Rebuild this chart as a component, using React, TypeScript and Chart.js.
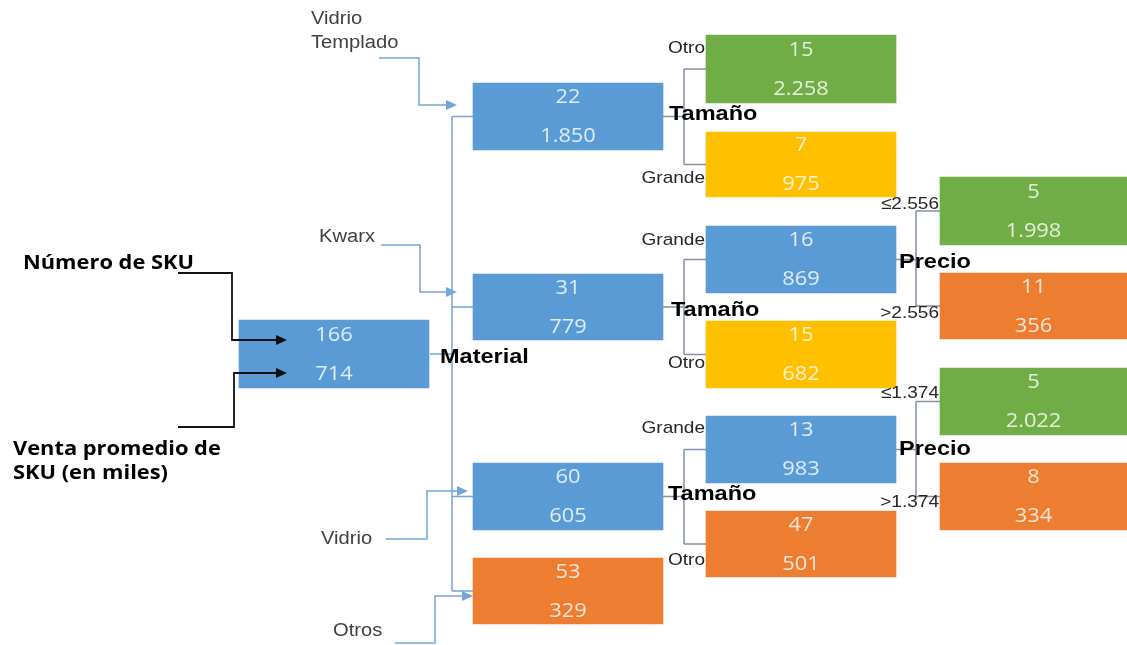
import React, { useEffect, useRef } from "react";
import { Chart, registerables } from "chart.js";

Chart.register(...registerables);

// tree nodes, in order: root, materials, sizes, prices
const skuCounts = [166, 22, 31, 60, 53, 15, 7, 16, 15, 13, 47, 5, 11, 5, 8];
const avgSales = [714, 1850, 779, 605, 329, 2258, 975, 869, 682, 983, 501, 1998, 356, 2022, 334];
const nodeParents = [-1, 0, 0, 0, 0, 1, 1, 2, 2, 3, 3, 7, 7, 9, 9];
const branchLabels = ["", "Vidrio\nTemplado", "Kwarx", "Vidrio", "Otros", "Otro", "Grande", "Grande", "Otro", "Grande", "Otro", "≤2.556", ">2.556", "≤1.374", ">1.374"];
const nodeGroups = ["split", "split", "split", "split", "low", "high", "mid", "split", "mid", "split", "low", "high", "low", "high", "low"];
const splitNodes = [0, 1, 2, 3, 7, 9];
const splitNames = ["Material", "Tamaño", "Tamaño", "Tamaño", "Precio", "Precio"];
const rootNotes = ["Número de SKU", "Venta promedio de\nSKU (en miles)"];

// ---- layout (canvas units) ----
// [left, right, top, bottom]
const nodeBox = [
  [238, 430, 320, 388],
  [473, 663, 83, 150],
  [473, 663, 274, 340],
  [473, 663, 463, 530],
  [473, 663, 558, 624],
  [706, 896, 35, 103],
  [706, 896, 132, 197],
  [706, 896, 226, 293],
  [706, 896, 321, 388],
  [706, 896, 416, 483],
  [706, 896, 511, 577],
  [940, 1130, 177, 245],
  [940, 1130, 273, 339],
  [940, 1130, 368, 435],
  [940, 1130, 463, 530],
];
// split label position [x, y] and bracket x
const splitPos = [
  [440, 357, 452],
  [669, 114, 684],
  [671, 310, 684],
  [668, 494, 684],
  [899, 262, 916],
  [899, 449, 916],
];
// material inputs: label x, label y, line start x, line y, elbow x, arrow y, tip x
const materialArrows = [
  [311, 19, 379, 58, 419, 105, 457],
  [319, 237, 381, 245, 420, 292, 457],
  [321, 539, 386, 539, 427, 491, 468],
  [333, 631, 395, 643, 435, 596, 473],
];
// branch label y for the size / price children (right aligned at box left)
const branchLabelY: Record<number, number> = { 5: 48, 6: 178, 7: 240, 8: 363, 9: 428, 10: 560, 11: 204, 12: 313, 13: 393, 14: 502 };
// root notes: text x, text y, line start x, line y, elbow x, arrow y
const noteArrows = [
  [23, 263, 178, 273, 232, 340],
  [13, 449, 178, 427, 234, 373],
];

const groupColor: Record<string, string> = { split: "#5B9BD5", high: "#70AD47", mid: "#FFC000", low: "#ED7D31" };
const groupText: Record<string, string> = { split: "#DDEBF7", high: "#E2F0D9", mid: "#FFF2CC", low: "#FBE5D6" };

const SX = 1.12;

function fmt(v: number) {
  return String(v).replace(/\B(?=(\d{3})+(?!\d))/g, ".");
}

function drawText(ctx: CanvasRenderingContext2D, s: string, x: number, y: number, font: string, color: string, align: "left" | "center" | "right") {
  ctx.save();
  ctx.font = font;
  ctx.fillStyle = color;
  ctx.textBaseline = "middle";
  ctx.textAlign = "left";
  const w = ctx.measureText(s).width * SX;
  const left = align === "center" ? x - w / 2 : align === "right" ? x - w : x;
  ctx.translate(left, y);
  ctx.scale(SX, 1);
  ctx.fillText(s, 0, 0);
  ctx.restore();
}

function arrowPath(ctx: CanvasRenderingContext2D, pts: number[][], color: string, width: number) {
  ctx.save();
  ctx.strokeStyle = color;
  ctx.fillStyle = color;
  ctx.lineWidth = width;
  ctx.beginPath();
  const n = pts.length;
  const [tx, ty] = pts[n - 1];
  pts.forEach(([x, y], i) => {
    const px = i === n - 1 ? x - 8 : x;
    if (i === 0) ctx.moveTo(x, y);
    else ctx.lineTo(px, y);
  });
  ctx.stroke();
  ctx.beginPath();
  ctx.moveTo(tx, ty);
  ctx.lineTo(tx - 11, ty - 5);
  ctx.lineTo(tx - 11, ty + 5);
  ctx.closePath();
  ctx.fill();
  ctx.restore();
}

const treePlugin = {
  id: "tree",
  beforeDatasetsDraw(chart: any) {
    const { ctx } = chart;
    const X = (v: number) => chart.scales.x.getPixelForValue(v);
    const Y = (v: number) => chart.scales.y.getPixelForValue(v);
    const cy = (i: number) => Y((nodeBox[i][2] + nodeBox[i][3]) / 2);
    ctx.save();
    ctx.lineWidth = 1.5;
    splitNodes.forEach((p, k) => {
      const kids = nodeParents.map((q, i) => (q === p ? i : -1)).filter((i) => i >= 0);
      const bx = X(splitPos[k][2]);
      ctx.strokeStyle = p === 0 ? "#74A5D8" : "#8391A4";
      ctx.beginPath();
      ctx.moveTo(X(nodeBox[p][1]), cy(p));
      ctx.lineTo(bx, cy(p));
      ctx.moveTo(bx, cy(kids[0]));
      ctx.lineTo(bx, cy(kids[kids.length - 1]));
      kids.forEach((c) => {
        ctx.moveTo(bx, cy(c));
        ctx.lineTo(X(nodeBox[c][0]), cy(c));
      });
      ctx.stroke();
    });
    ctx.restore();
    // material input arrows
    materialArrows.forEach((a) => {
      arrowPath(ctx, [[X(a[2]), Y(a[3])], [X(a[4]), Y(a[3])], [X(a[4]), Y(a[5])], [X(a[6]), Y(a[5])]], "#74A5D8", 1.5);
    });
  },
  afterDatasetsDraw(chart: any) {
    const { ctx } = chart;
    const X = (v: number) => chart.scales.x.getPixelForValue(v);
    const Y = (v: number) => chart.scales.y.getPixelForValue(v);
    // root notes arrows, over the root box
    noteArrows.forEach((a) => {
      arrowPath(ctx, [[X(a[2]), Y(a[3])], [X(a[4]), Y(a[3])], [X(a[4]), Y(a[5])], [X(287), Y(a[5])]], "#111111", 1.8);
    });
    const numFont = "19.5px 'Open Sans', sans-serif";
    skuCounts.forEach((n, i) => {
      const [l, r, t, b] = nodeBox[i];
      const cx = (l + Math.min(r, 1127)) / 2;
      const col = groupText[nodeGroups[i]];
      const mid = (t + b) / 2;
      drawText(ctx, String(n), X(cx), Y(mid - 19), numFont, col, "center");
      drawText(ctx, fmt(avgSales[i]), X(cx), Y(mid + 20), numFont, col, "center");
    });
    const lblFont = "18px 'Liberation Sans', sans-serif";
    materialArrows.forEach((a, k) => {
      branchLabels[k + 1].split("\n").forEach((s, j) => {
        drawText(ctx, s, X(a[0]), Y(a[1] + j * 24), lblFont, "#404040", "left");
      });
    });
    Object.keys(branchLabelY).forEach((key) => {
      const i = Number(key);
      drawText(ctx, branchLabels[i], X(nodeBox[i][0] - 1), Y(branchLabelY[i]), "17px 'Liberation Sans', sans-serif", "#262626", "right");
    });
    splitNames.forEach((s, k) => {
      drawText(ctx, s, X(splitPos[k][0]), Y(splitPos[k][1]), "bold 21px 'Liberation Sans', sans-serif", "#000000", "left");
    });
    rootNotes.forEach((s, k) => {
      s.split("\n").forEach((line, j) => {
        drawText(ctx, line, X(noteArrows[k][0]), Y(noteArrows[k][1] + j * 24), "bold 19.5px 'Open Sans', sans-serif", "#000000", "left");
      });
    });
  },
};

export default function App() {
  const ref = useRef<HTMLCanvasElement | null>(null);
  useEffect(() => {
    document.body.style.margin = "0";
    if (!ref.current) return;
    const chart = new Chart(ref.current, {
      type: "bar",
      data: {
        datasets: [
          {
            data: nodeBox.map((b) => ({ x: (b[0] + b[1]) / 2, y: [b[2], b[3]] })) as any,
            backgroundColor: nodeGroups.map((g) => groupColor[g]),
            borderWidth: 0,
            barThickness: 190,
          },
        ],
      },
      options: {
        animation: false,
        responsive: true,
        maintainAspectRatio: false,
        events: [],
        layout: { padding: 0 },
        plugins: { legend: { display: false }, tooltip: { enabled: false } },
        scales: {
          x: { type: "linear", min: 0, max: 1127, offset: false, display: false },
          y: { type: "linear", min: 0, max: 645, reverse: true, display: false },
        },
      },
      plugins: [treePlugin],
    });
    return () => chart.destroy();
  }, []);
  return (
    <div style={{ width: 1127, height: 645, position: "relative", background: "#ffffff" }}>
      <canvas ref={ref} />
    </div>
  );
}
